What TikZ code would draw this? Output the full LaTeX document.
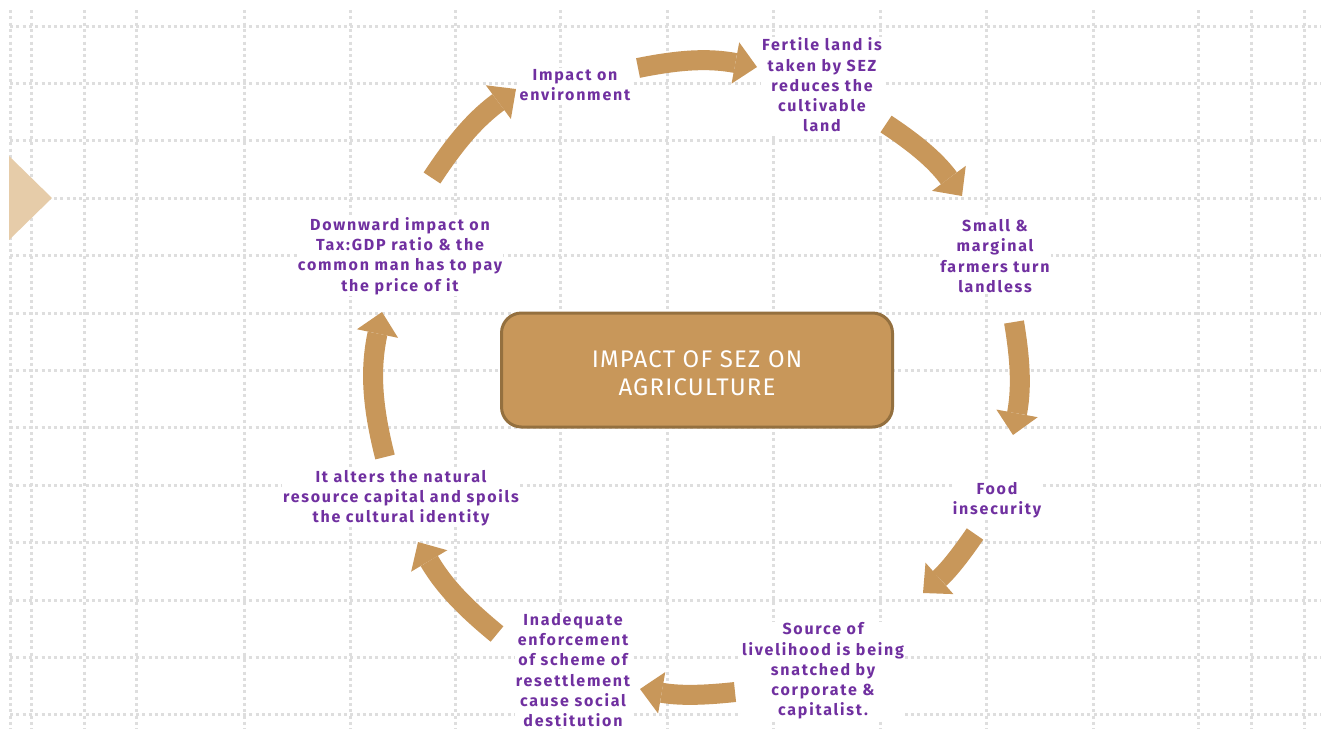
\documentclass[tikz,border=0pt]{standalone}
\usepackage{fontspec}
\setmainfont{Fira Sans}
\newfontfamily\sirkelfont[LetterSpace=11]{Fira Sans}
\newfontfamily\boksfont[LetterSpace=5]{Fira Sans}
\usepackage{xcolor}
\usetikzlibrary{arrows.meta}

\definecolor{lilla}{HTML}{7030A0}
\definecolor{brun}{HTML}{C8975A}
\definecolor{kantbrun}{HTML}{94703F}
\definecolor{lysbrun}{HTML}{E6CCA9}
\definecolor{rutegraa}{HTML}{DEDEDE}

\tikzset{
  rute/.style={rutegraa, line width=3pt, dash pattern=on 3pt off 3.3pt},
  tekst/.style={fill=white, text=lilla, align=center, inner sep=1pt,
    font=\sirkelfont\bfseries\fontsize{16}{20.3}\selectfont},
  midtboks/.style={rectangle, rounded corners=20pt, fill=brun, draw=kantbrun,
    line width=3pt, minimum width=391pt, minimum height=114pt, text=white,
    align=center, text height=51pt, font=\boksfont\fontsize{24}{28}\selectfont},
  pil/.style={brun, line width=20pt,
    -{Triangle[width=42pt,length=22pt,line width=0pt]}}
}

\begin{document}
\begin{tikzpicture}[x=1pt, y=-1pt]
  \useasboundingbox (0,0) rectangle (1321,729);
  \fill[white] (0,0) rectangle (1321,729);

  % rutenett
  \foreach \y in {0,...,12}
    \draw[rute] (10,{26+57.4*\y}) -- (1321,{26+57.4*\y});
  \foreach \x in {10,31,84,136,244,350,455,560,667,773,880,986,1093,1198,1251,1304}
    \draw[rute] (\x,10) -- (\x,729);

  % trekant til venstre
  \fill[lysbrun] (9,156) -- (52,198) -- (9,240) -- cycle;

  % midtboks
  \node[midtboks] (sez) at (697,370) {IMPACT OF SEZ ON\\AGRICULTURE};

  % tekster
  \node[tekst] (env) at (575,85) {Impact on\\environment};
  \node[tekst] (fertile) at (822,85) {Fertile land is\\taken by SEZ\\reduces the\\cultivable\\land};
  \node[tekst] (farmers) at (995,256) {Small \&\\marginal\\farmers turn\\landless};
  \node[tekst] (food) at (997,500) {Food\\insecurity};
  \node[tekst] (livelihood) at (823,671) {Source of\\livelihood is being\\snatched by\\corporate \&\\capitalist.};
  \node[tekst] (resettle) at (573,670) {Inadequate\\enforcement\\of scheme of\\resettlement\\cause social\\destitution};
  \node[tekst] (alters) at (401,498) {It alters the natural\\resource capital and spoils\\the cultural identity};
  \node[tekst] (taxgdp) at (400,256) {Downward impact on\\Tax:GDP ratio \& the\\common man has to pay\\the price of it};

  % endepunkter for pilene
  \coordinate (p1s) at (638,68);  \coordinate (p1e) at (757,67);
  \coordinate (p2s) at (886,124); \coordinate (p2e) at (962,196);
  \coordinate (p3s) at (1014,322); \coordinate (p3e) at (1013,435);
  \coordinate (p4s) at (975,534); \coordinate (p4e) at (923,593);
  \coordinate (p5s) at (735,692); \coordinate (p5e) at (640,689);
  \coordinate (p6s) at (497,634); \coordinate (p6e) at (418,542);
  \coordinate (p7s) at (385,457); \coordinate (p7e) at (382,312);
  \coordinate (p8s) at (432,178); \coordinate (p8e) at (516,89);

  % piler
  \foreach \i/\b in {1/11,2/10,3/10,4/7,5/8,6/10,7/13,8/10}
    \draw[pil] (p\i s) to[bend left=\b] (p\i e);
\end{tikzpicture}
\end{document}
